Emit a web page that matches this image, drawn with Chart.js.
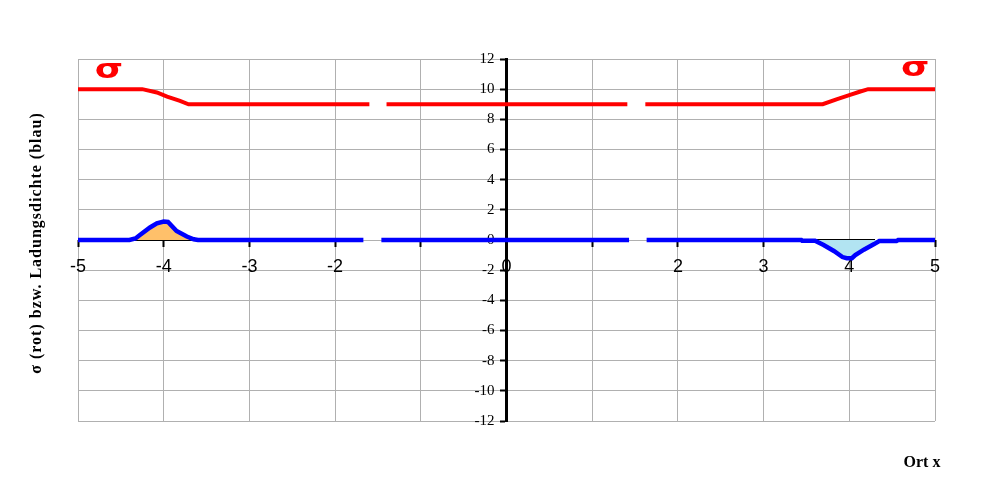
<!DOCTYPE html>
<html>
<head>
<meta charset="utf-8">
<script src="https://cdn.jsdelivr.net/npm/chart.js@4/dist/chart.umd.min.js"></script>
<style>
html,body{margin:0;padding:0;background:#fff;}
#wrap{width:1000px;height:500px;position:relative;}
</style>
</head>
<body>
<div id="wrap"><canvas id="c" width="1000" height="500"></canvas></div>
<script>
// ---- data ----
// sigma (red); null marks a gap in the line
const sigmaX = [-5, -4.25, -4.08, -3.96, -3.81, -3.71, -1.6, -1.5, -1.4, 1.41, 1.5, 1.62, 3.69, 3.85, 4.0, 4.12, 4.22, 5];
const sigmaY = [10, 10, 9.78, 9.5, 9.22, 9.0, 9.0, null, 9.0, 9.0, null, 9.0, 9.0, 9.33, 9.6, 9.83, 10, 10];
// charge density (blue)
const rhoX = [-5, -4.4, -4.33, -4.27, -4.16, -4.08, -4.0, -3.95, -3.85, -3.73, -3.65, -3.6, -1.67, -1.56, -1.46, 1.43, 1.53, 1.635, 3.44, 3.45, 3.6, 3.7, 3.82, 3.92, 3.97, 4.03, 4.07, 4.17, 4.29, 4.35, 4.55, 4.57, 5];
const rhoY = [0, 0, 0.1, 0.36, 0.83, 1.1, 1.22, 1.2, 0.6, 0.23, 0.05, 0, 0, null, 0, 0, null, 0, 0, -0.05, -0.05, -0.33, -0.73, -1.13, -1.21, -1.21, -1.0, -0.64, -0.27, -0.07, -0.07, 0, 0];
// black base edge of the two shaded areas
const areaBaseX = [-4.37, -3.6, -3.0, 3.58, 4.3];
const areaBaseY = [0, 0, null, 0, 0];
// axes
const xMin = -5, xMax = 5, xStep = 1;
const yMin = -12, yMax = 12, yStep = 2;
const xHiddenTickLabels = [-1, 1];
const yLabelAxisAt = -0.14;
const yTitle = 'σ (rot) bzw. Ladungsdichte (blau)';
const xTitle = 'Ort x';
const sigmaMark = 'σ';
const sigmaMarkX = [-4.64, 4.77];
const sigmaMarkY = [11.2, 11.3];

const toPts = (xs, ys) => xs.map((x, i) => ({x: x, y: ys[i]}));

const textPlugin = {
  id: 'texts',
  afterDraw(chart) {
    const ctx = chart.ctx;
    const xs = chart.scales.x, ys = chart.scales.y;
    ctx.save();
    ctx.fillStyle = '#000';
    ctx.font = 'bold 16px "Liberation Serif", "Times New Roman", serif';
    ctx.textAlign = 'center';
    ctx.textBaseline = 'middle';
    try { ctx.letterSpacing = '1px'; } catch (e) {}
    ctx.translate(37, 243);
    ctx.rotate(-Math.PI / 2);
    ctx.fillText(yTitle, 0, 0);
    ctx.restore();
    ctx.save();
    ctx.fillStyle = '#000';
    ctx.font = 'bold 16px "Liberation Serif", "Times New Roman", serif';
    ctx.textAlign = 'center';
    ctx.textBaseline = 'middle';
    ctx.fillText(xTitle, 922, 463);
    ctx.fillStyle = '#ff0000';
    ctx.font = 'bold 26px "DejaVu Sans", sans-serif';
    for (let i = 0; i < sigmaMarkX.length; i++) {
      const px = xs.getPixelForValue(sigmaMarkX[i]);
      const py = ys.getPixelForValue(sigmaMarkY[i]);
      ctx.save();
      ctx.translate(px, py);
      ctx.scale(1.4, 1);
      ctx.fillText(sigmaMark, 0, 0);
      ctx.restore();
    }
    ctx.restore();
  }
};

new Chart(document.getElementById('c'), {
  type: 'scatter',
  data: {
    datasets: [
      {
        label: 'sigma',
        data: toPts(sigmaX, sigmaY),
        showLine: true,
        borderColor: '#ff0000',
        borderWidth: 4,
        pointRadius: 0,
        fill: false,
        spanGaps: false,
        tension: 0,
        borderCapStyle: 'butt',
        order: 1
      },
      {
        label: 'rho',
        data: toPts(rhoX, rhoY),
        showLine: true,
        borderColor: '#0000ff',
        borderWidth: 4.5,
        pointRadius: 0,
        fill: {target: 'origin', above: '#ffc06a', below: '#b2e4f2'},
        spanGaps: false,
        tension: 0,
        borderCapStyle: 'butt',
        order: 2
      },
      {
        label: 'base',
        data: toPts(areaBaseX, areaBaseY),
        showLine: true,
        borderColor: '#000000',
        borderWidth: 2,
        pointRadius: 0,
        fill: false,
        spanGaps: false,
        borderCapStyle: 'butt',
        order: 3
      }
    ]
  },
  options: {
    responsive: false,
    animation: false,
    devicePixelRatio: 1,
    layout: {padding: {left: 78, right: 65, top: 59, bottom: 79}},
    plugins: {legend: {display: false}, tooltip: {enabled: false}},
    scales: {
      x: {
        type: 'linear',
        position: {y: 0},
        min: xMin, max: xMax,
        afterFit: s => { s.height = 0; },
        ticks: {
          stepSize: xStep,
          autoSkip: false,
          maxRotation: 0,
          color: '#000',
          padding: 9,
          font: {family: '"Liberation Sans", Arial, sans-serif', size: 18},
          callback: v => xHiddenTickLabels.includes(v) ? '' : String(v)
        },
        grid: {color: '#b0b0b0', lineWidth: 1, tickColor: '#000', tickLength: 7, tickWidth: 2, drawTicks: true},
        border: {display: false}
      },
      y: {
        type: 'linear',
        position: {x: 0},
        min: yMin, max: yMax,
        afterFit: s => { s.width = 0; },
        ticks: {stepSize: yStep, display: false},
        grid: {color: '#b0b0b0', lineWidth: 1, tickColor: '#000', tickLength: 5, tickWidth: 2, drawTicks: true},
        border: {color: '#000', width: 3}
      },
      yLabels: {
        type: 'linear',
        axis: 'y',
        position: {x: yLabelAxisAt},
        min: yMin, max: yMax,
        afterFit: s => { s.width = 0; },
        ticks: {
          stepSize: yStep,
          autoSkip: false,
          color: '#000',
          font: {family: '"Liberation Serif", "Times New Roman", serif', size: 15}
        },
        grid: {display: false, drawTicks: false},
        border: {display: false}
      }
    }
  },
  plugins: [textPlugin]
});
</script>
</body>
</html>
